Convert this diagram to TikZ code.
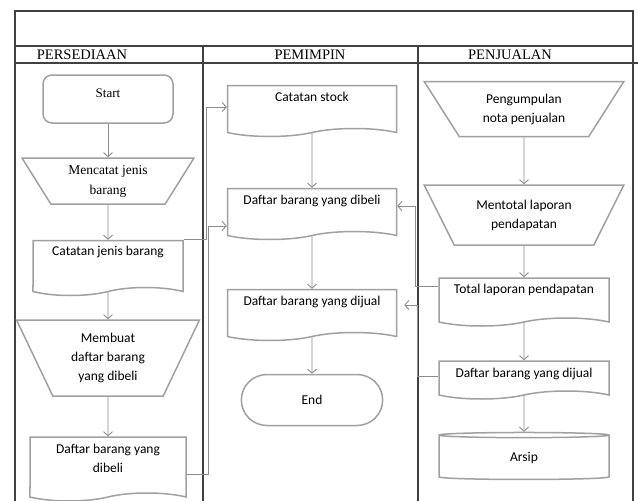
\documentclass[tikz,border=0pt]{standalone}
\usepackage{fontspec}
\setmainfont{Carlito}
\newfontfamily\headfont{Liberation Serif}
\usetikzlibrary{shapes.geometric,shapes.symbols,shapes.misc,arrows.meta}
\definecolor{shapegray}{HTML}{A0A0A0}
\definecolor{arrowgray}{HTML}{8C8C8C}
\definecolor{framegray}{HTML}{404040}

\begin{document}
\begin{tikzpicture}[
    x=1pt, y=-1pt,
    font=\fontsize{13.5}{19}\selectfont,
    >={Straight Barb[length=4pt,width=9pt]},
    % Node styles:
    doc/.style={tape, tape bend top=none, tape bend height=8pt, draw=shapegray,
                line width=1.5pt, align=center, inner sep=0pt},
    manual/.style={trapezium, shape border rotate=180, trapezium stretches=true,
                   draw=shapegray, line width=1.5pt, align=center, inner sep=0pt},
    startbox/.style={rectangle, rounded corners=9pt, draw=shapegray,
                     line width=1.5pt, minimum width=130pt, minimum height=48pt},
    term/.style={rounded rectangle, draw=shapegray, line width=1.5pt,
                 minimum width=148pt, minimum height=51pt},
    store/.style={cylinder, shape border rotate=90, aspect=0.15, draw=shapegray,
                  line width=1.5pt, minimum width=170pt, minimum height=47pt},
    lanetitle/.style={font=\headfont\fontsize{14.5}{16}\selectfont},
    % Line styles:
    line/.style={->, draw=arrowgray, line width=0.9pt},
    lane/.style={draw=framegray, line width=1.2pt},
]
\useasboundingbox (0,0) rectangle (638,501);

% --- FRAME AND LANES ---
\draw[lane] (15,501) -- (15,11) -- (633,11) -- (633,501);
\draw[lane] (15,46) -- (633,46);
\draw[lane] (15,63) -- (638,63);
\draw[lane] (203,46) -- (203,501);
\draw[lane] (418,46) -- (418,501);
\node[lanetitle] (hdpers) at (82,55)  {PERSEDIAAN};
\node[lanetitle] (hdpem)  at (310,55) {PEMIMPIN};
\node[lanetitle] (hdpenj) at (510,55) {PENJUALAN};

% --- PERSEDIAAN ---
\node[startbox, text height=9pt, text depth=13pt,
      font=\headfont\fontsize{13}{19}\selectfont] (start) at (108,99) {Start};
\node[manual, below of=start, node distance=82pt, minimum width=172pt,
      minimum height=46pt, trapezium left angle=58, trapezium right angle=58,
      font=\headfont\fontsize{13.5}{20}\selectfont]
      (mencatat) {Mencatat jenis\\barang};
\node[doc, below of=mencatat, node distance=83pt, minimum width=150pt,
      minimum height=55pt, text height=9pt, text depth=27pt]
      (catjenis) {Catatan jenis barang};
\node[manual, below of=catjenis, node distance=94pt, minimum width=183pt,
      minimum height=76pt, trapezium left angle=64, trapezium right angle=64]
      (membuat) {Membuat\\daftar barang\\yang dibeli};
\node[doc, below of=membuat, node distance=107pt, minimum width=156pt,
      minimum height=64pt] (dibeli1) {Daftar barang yang\\dibeli\rule[-14pt]{0pt}{0pt}};

% --- PEMIMPIN ---
\node[doc, minimum width=169pt, minimum height=51pt, text height=9pt,
      text depth=21pt] (stock) at (312,107) {Catatan stock};
\node[doc, below of=stock, node distance=103pt, minimum width=169pt,
      minimum height=51pt, text height=9pt, text depth=21pt]
      (dibeli2) {Daftar barang yang dibeli};
\node[doc, below of=dibeli2, node distance=101pt, minimum width=169pt,
      minimum height=51pt, text height=9pt, text depth=21pt]
      (dijual2) {Daftar barang yang dijual};
\node[term, below of=dijual2, node distance=89pt] (end) {End};

% --- PENJUALAN ---
\node[manual, minimum width=200pt, minimum height=55pt, trapezium left angle=54,
      trapezium right angle=54] (kumpul) at (524,109) {Pengumpulan\\nota penjualan};
\node[manual, below of=kumpul, node distance=106pt, minimum width=200pt,
      minimum height=60pt, trapezium left angle=56, trapezium right angle=56]
      (mentotal) {Mentotal laporan\\pendapatan};
\node[doc, below of=mentotal, node distance=83pt, minimum width=170pt,
      minimum height=48pt, text height=9pt, text depth=19pt]
      (total) {Total laporan pendapatan};
\node[doc, below of=total, node distance=78pt, minimum width=170pt,
      minimum height=38pt, text height=9pt, text depth=7pt]
      (dijual3) {Daftar barang yang dijual};
\node[store, below of=dijual3, node distance=82pt] (arsip) {Arsip};

% --- ARROWS ---
\draw[line] (start) -- (mencatat);
\draw[line] (mencatat) -- (catjenis);
\draw[line] (catjenis) -- (membuat);
\draw[line] (membuat) -- (dibeli1);

\draw[line] (stock) -- (dibeli2);
\draw[line] (dibeli2) -- (dijual2);
\draw[line] (dijual2) -- (end);

\draw[line] (kumpul) -- (mentotal);
\draw[line] (mentotal) -- (total);
\draw[line] (total) -- (dijual3);
\draw[line] (dijual3) -- (arsip);

% Between the lanes
\draw[line] (catjenis.north east) -- ++(23,0) |- (stock.west);
\draw[line] ([yshift=-9pt]dibeli1.east) -- ++(22,0) |- ([yshift=-16pt]dibeli2.west);
\draw[line] ([yshift=12pt]total.west) -- ++(-23,0) |- ([yshift=4pt]dibeli2.east);
\draw[line, shorten >=7pt] (dijual3.west) -- ++(-21,0) |- ([yshift=6pt]dijual2.east);

\end{tikzpicture}
\end{document}
